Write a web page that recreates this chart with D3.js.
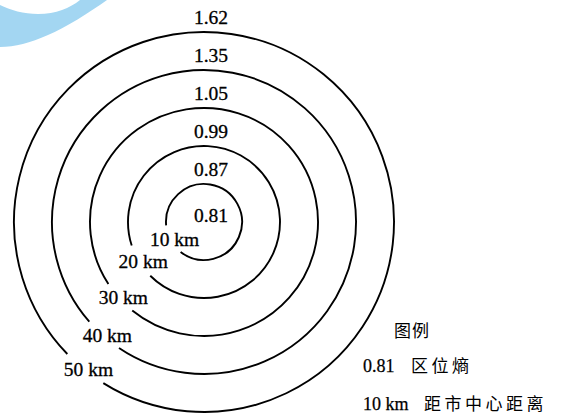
<!DOCTYPE html>
<html>
<head>
<meta charset="utf-8">
<script src="https://cdn.jsdelivr.net/npm/d3@7"></script>
<style>
  body { margin: 0; background: #fff; }
  svg { display: block; }
</style>
</head>
<body>
<script>
// data
let distances = [10, 20, 30, 40, 50];
let distLabels = ["10 km", "20 km", "30 km", "40 km", "50 km"];
let entropy = ["0.81", "0.87", "0.99", "1.05", "1.35", "1.62"];
// gap in each ring where the distance label sits (degrees, 0 = top, clockwise)
let gapStart = [218, 225, 219, 214, 212];
let gapEnd = [265, 252, 237, 229, 226];
let legendTitle = "图例";
let legendRows = [["0.81", "区位熵"], ["10 km", "距市中心距离"]];

let w = 562, h = 416;
let cx = 204, cy = 222;

let svg = d3.select("body").append("svg")
    .attr("width", w)
    .attr("height", h);

svg.append("rect").attr("width", w).attr("height", h).attr("fill", "#fff");

// light blue swoosh in the corner
svg.append("path")
    .attr("d", "M80,0 L107,0 C90,12 65,28 48,35 C30,43 15,47 0,47 L0,5 C10,10 24,14 38,14 C56,14 70,8 80,0 Z")
    .attr("fill", "#a3d6f2");

let rScale = d3.scaleLinear()
    .domain([0, 50])
    .range([0, 190]);

let rad = (d) => d * Math.PI / 180;

let g = svg.append("g")
    .attr("transform", "translate(" + cx + "," + cy + ")");

// rings, open where the label is
g.selectAll("path.ring")
    .data(distances)
    .enter()
    .append("path")
    .attr("class", "ring")
    .attr("d", (d, i) => d3.arc()({
        innerRadius: rScale(d),
        outerRadius: rScale(d),
        startAngle: rad(gapEnd[i]),
        endAngle: rad(gapStart[i] + 360)
    }))
    .attr("fill", "none")
    .attr("stroke", "#000")
    .attr("stroke-width", 1.9);

// distance labels sit in the gaps
g.selectAll("text.dist")
    .data(distances)
    .enter()
    .append("text")
    .attr("class", "dist")
    .attr("x", (d, i) => {
        let a = rad((gapStart[i] + gapEnd[i]) / 2);
        return rScale(d) * Math.sin(a) + 4;
    })
    .attr("y", (d, i) => {
        let a = rad((gapStart[i] + gapEnd[i]) / 2);
        return -rScale(d) * Math.cos(a) + 6;
    })
    .attr("text-anchor", "middle")
    .attr("font-family", "'Liberation Serif', 'DejaVu Serif', serif")
    .attr("font-size", 19.5)
    .attr("fill", "#000")
    .attr("stroke", "#000")
    .attr("stroke-width", 0.3)
    .text((d, i) => distLabels[i]);

// entropy values, each just above the ring inside it
g.selectAll("text.val")
    .data(entropy)
    .enter()
    .append("text")
    .attr("class", "val")
    .attr("x", 7)
    .attr("y", (d, i) => i === 0 ? 0 : -rScale(distances[i - 1]) - 8)
    .attr("text-anchor", "middle")
    .attr("font-family", "'Liberation Serif', 'DejaVu Serif', serif")
    .attr("font-size", 19.5)
    .attr("fill", "#000")
    .attr("stroke", "#000")
    .attr("stroke-width", 0.3)
    .text((d) => d);

// legend
let lg = svg.append("g").attr("transform", "translate(363,0)");

lg.append("text")
    .attr("x", 31)
    .attr("y", 337)
    .attr("font-family", "'Noto Sans CJK SC', sans-serif")
    .attr("font-size", 17)
    .attr("letter-spacing", 1)
    .text(legendTitle);

let rows = lg.selectAll("g.row")
    .data(legendRows)
    .enter()
    .append("g")
    .attr("class", "row")
    .attr("transform", (d, i) => "translate(0," + (372 + i * 38) + ")");

rows.append("text")
    .attr("font-family", "'Liberation Serif', serif")
    .attr("font-size", 18)
    .attr("stroke", "#000")
    .attr("stroke-width", 0.25)
    .text((d) => d[0]);

rows.append("text")
    .attr("x", (d, i) => i === 0 ? 48 : 61)
    .attr("font-family", "'Noto Sans CJK SC', sans-serif")
    .attr("font-size", 17)
    .attr("letter-spacing", 3.5)
    .text((d) => d[1]);
</script>
</body>
</html>
